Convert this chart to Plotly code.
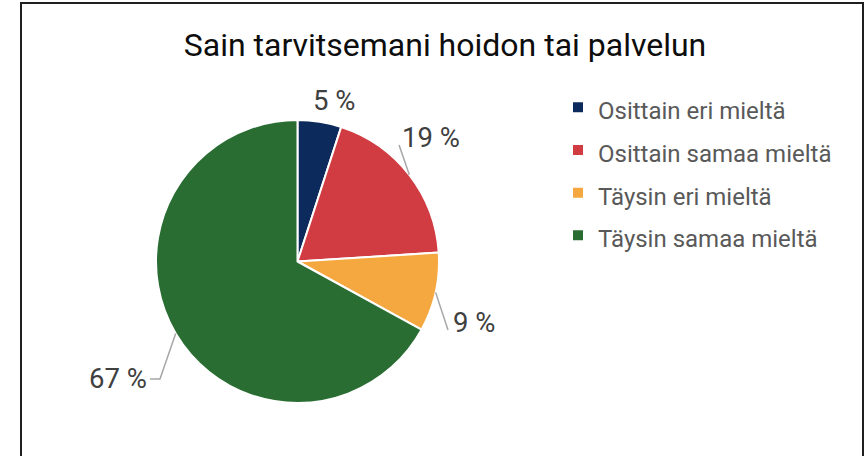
import math
import plotly.graph_objects as go

categories = ["Osittain eri mieltä", "Osittain samaa mieltä", "Täysin eri mieltä", "Täysin samaa mieltä"]
values = [5, 19, 9, 67]
labels_text = ["5 %", "19 %", "9 %", "67 %"]
colors = ["#0C2A5B", "#D03C41", "#F5A83F", "#2A6D33"]

W, H = 866, 456
cx, cy, R = 297.5, 261.5, 141.5

# label placement (radius factor, angle offset from slice mid-angle)
label_place = [(1.17, 3.8), (1.29, -5.0), (1.32, 6.5), (None, None)]
# leader lines: None or list of (radius factor, angle offset) points after the slice edge
leader_place = [None, [(1.092, -11.1)], [(1.169, 11.9)], [(1.278, -9.9), "left10"]]


def px_to_paper(x, y):
    return x / W, 1 - y / H


def polar(k, ang):
    a = math.radians(ang)
    return cx + k * R * math.sin(a), cy - k * R * math.cos(a)


total = sum(values)
mids = []
acc = 0
for v in values:
    mids.append((acc + v / 2) / total * 360)
    acc += v

legend_names = [f'<span style="font-size:24px">{c}</span>' for c in categories]

fig = go.Figure(go.Pie(
    labels=legend_names,
    values=values,
    textinfo="none",
    sort=False,
    direction="clockwise",
    rotation=0,
    marker=dict(colors=colors, line=dict(color="white", width=2)),
    domain=dict(x=[(cx - R) / W, (cx + R) / W], y=[1 - (cy + R) / H, 1 - (cy - R) / H]),
    hovertext=categories,
    hoverinfo="text+percent",
))

annotations = []
shapes = [dict(type="rect", xref="paper", yref="paper",
               x0=21 / W, x1=863 / W, y0=-0.05, y1=1 - 3 / H,
               line=dict(color="#1F1F1F", width=2), fillcolor="rgba(0,0,0,0)", layer="above")]

for i, (txt, mid) in enumerate(zip(labels_text, mids)):
    lp = leader_place[i]
    pts = []
    if lp:
        pts = [polar(1.0, mid)]
        for p in lp:
            if p == "left10":
                pts.append((pts[-1][0] - 10, pts[-1][1]))
            else:
                pts.append(polar(p[0], mid + p[1]))
        path = "M " + " L ".join(f"{x / W},{1 - y / H}" for x, y in pts)
        shapes.append(dict(type="path", xref="paper", yref="paper", path=path,
                           line=dict(color="#A6A6A6", width=1.5)))
    k, off = label_place[i]
    if k is None:
        ex, ey = pts[-1]
        px_, py_ = px_to_paper(ex - 1, ey)
        xanchor = "right"
    else:
        lx, ly = polar(k, mid + off)
        px_, py_ = px_to_paper(lx, ly)
        xanchor = "center"
    annotations.append(dict(x=px_, y=py_, xref="paper", yref="paper", text=txt, showarrow=False,
                            xanchor=xanchor, yanchor="middle",
                            font=dict(family="Roboto", size=27.5, color="#404040")))

fig.update_layout(
    width=W, height=H,
    margin=dict(l=0, r=0, t=0, b=0),
    paper_bgcolor="white",
    plot_bgcolor="white",
    title=dict(text="Sain tarvitsemani hoidon tai palvelun", x=445 / W, xanchor="center",
               y=1 - 45 / H, yanchor="middle",
               font=dict(family="Roboto", size=32, color="#0D0D0D")),
    legend=dict(x=558 / W, y=1 - 81 / H, xanchor="left", yanchor="top",
                font=dict(family="Roboto", size=30.5, color="#595959"),
                tracegroupgap=0),
    annotations=annotations,
    shapes=shapes,
)

fig.write_html("out.html", config={"displayModeBar": False},
               post_script="document.body.style.margin='0';document.body.style.overflow='hidden';")
